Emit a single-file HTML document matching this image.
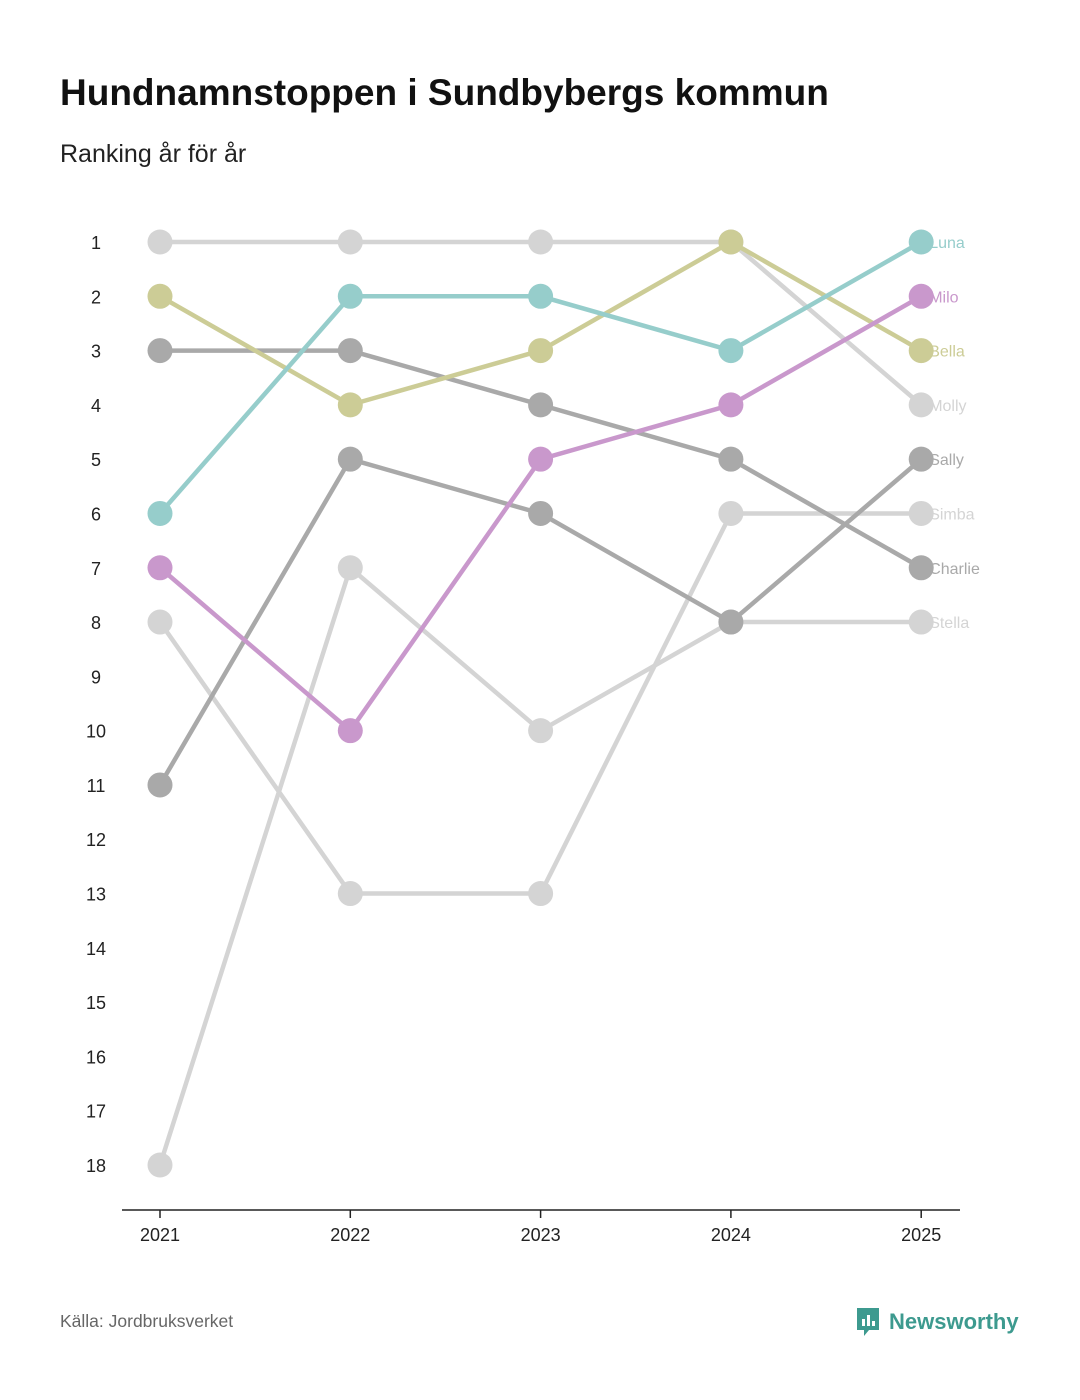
<!DOCTYPE html>
<html><head><meta charset="utf-8"><style>
body{margin:0;background:#fff;font-family:"Liberation Sans",sans-serif;}
#wrap{position:relative;width:1080px;height:1400px;overflow:hidden;}
h1{position:absolute;left:60px;top:72px;margin:0;font-size:37px;font-weight:bold;color:#111;}
.sub{position:absolute;left:60px;top:140px;font-size:25px;color:#222;}
.src{position:absolute;left:60px;top:1311px;font-size:17.5px;color:#666;}
.logo{position:absolute;left:855px;top:1306px;font-size:22px;font-weight:bold;color:#3d9a8f;display:flex;align-items:center;gap:8px;}
svg{position:absolute;left:0;top:0;}
</style></head><body>
<div id="wrap">
<h1>Hundnamnstoppen i Sundbybergs kommun</h1>
<div class="sub">Ranking år för år</div>
<svg id="chart" width="1080" height="1400"></svg>
<div class="src">Källa: Jordbruksverket</div>
<div class="logo"><svg style="position:static" width="26" height="32" viewBox="0 0 26 32"><path d="M2 2h22v22H14l-5 6v-6H2z" fill="#3d9a8f"/><rect x="7" y="13" width="3" height="7" fill="#fff"/><rect x="12" y="9" width="3" height="11" fill="#fff"/><rect x="17" y="15" width="3" height="5" fill="#fff"/></svg>Newsworthy</div>
</div>
<script>
const years=["2021","2022","2023","2024","2025"];
const names=["Molly","Stella","Simba","Sally","Charlie","Bella","Luna","Milo"];
const colors=["#d4d4d4","#d4d4d4","#d4d4d4","#a9a9a9","#a9a9a9","#cccc96","#96cdcb","#c998cc"];
const rankMolly=[1,1,1,1,4];
const rankStella=[18,7,10,8,8];
const rankSimba=[8,13,13,6,6];
const rankSally=[11,5,6,8,5];
const rankCharlie=[3,3,4,5,7];
const rankBella=[2,4,3,1,3];
const rankLuna=[6,2,2,3,1];
const rankMilo=[7,10,5,4,2];
const ranks=[rankMolly,rankStella,rankSimba,rankSally,rankCharlie,rankBella,rankLuna,rankMilo];
const yTicks=[1,2,3,4,5,6,7,8,9,10,11,12,13,14,15,16,17,18];
const NS="http://www.w3.org/2000/svg";
const svg=document.getElementById('chart');
const x=i=>160+i*190.3;
const y=r=>242+(r-1)*(1165-242)/17;
function mk(t,a){const e=document.createElementNS(NS,t);for(const k in a)e.setAttribute(k,a[k]);svg.appendChild(e);return e;}
yTicks.forEach(r=>{const t=mk('text',{x:96,y:y(r)+7,'text-anchor':'middle','font-size':18,fill:'#222','font-family':'Liberation Sans'});t.textContent=r;

});
const ax=mk('line',{x1:122,x2:960,y1:1210,y2:1210,stroke:'#222','stroke-width':1.5});


years.forEach((yr,i)=>{mk('line',{x1:x(i),x2:x(i),y1:1210,y2:1218,stroke:'#222','stroke-width':1.5});
const t=mk('text',{x:x(i),y:1241,'text-anchor':'middle','font-size':18,fill:'#222','font-family':'Liberation Sans'});t.textContent=yr;

});
ranks.forEach((rk,s)=>{
const p=mk('polyline',{points:rk.map((r,i)=>x(i)+','+y(r)).join(' '),fill:'none',stroke:colors[s],'stroke-width':4.5});


rk.forEach((r,i)=>{const c=mk('circle',{cx:x(i),cy:y(r),r:12.5,fill:colors[s]});

});
const t=mk('text',{x:x(4)+8,y:y(rk[4])+6,'font-size':16,fill:colors[s],'font-family':'Liberation Sans'});t.textContent=names[s];


});
</script>
</body></html>
